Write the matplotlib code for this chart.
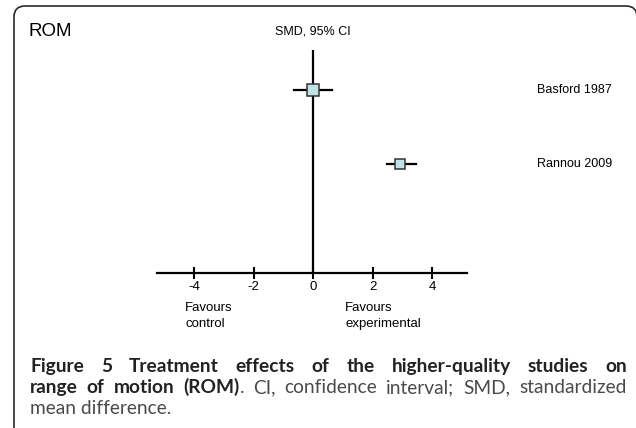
import matplotlib
matplotlib.use('Agg')
import matplotlib.pyplot as plt
from matplotlib.patches import FancyBboxPatch
from matplotlib.transforms import IdentityTransform

# forest plot data
studies = ['Basford 1987', 'Rannou 2009']
smd = [0.0, 2.92]
ci_low = [-0.65, 2.49]
ci_high = [0.65, 3.45]
box_size = [8.2, 7.4]
xticks = [-4, -2, 0, 2, 4]

W, H = 636, 428
fig = plt.figure(figsize=(W / 100, H / 100), dpi=100)
plt.rcParams['font.family'] = ['Liberation Sans', 'DejaVu Sans']

def px(x, y):
    # pixel (from top-left) -> figure fraction
    return x / W, 1 - y / H

# panel frame with rounded top corners
frame = FancyBboxPatch((14, -100), 623, H - 6 + 100,
                       boxstyle='round,pad=0,rounding_size=11',
                       transform=IdentityTransform(), fill=False,
                       edgecolor='#2b2b2b', linewidth=1.2)
fig.patches.append(frame)

# axes: x=0 at 313px, 29.75 px per unit
ax_l, ax_r, ax_t, ax_b = 157, 467, 50, 273
ax = fig.add_axes([ax_l / W, 1 - ax_b / H, (ax_r - ax_l) / W, (ax_b - ax_t) / H])
ax.set_xlim((ax_l - 313) / 29.75, (ax_r - 313) / 29.75)
ax.set_ylim(1 + (ax_b - 90) / 73.7, 1 - (90 - ax_t) / 73.7)
for s in ['top', 'right', 'left']:
    ax.spines[s].set_visible(False)
ax.spines['bottom'].set_linewidth(1.6)
ax.patch.set_alpha(0)
ax.set_yticks([])
ax.set_xticks(xticks)
ax.set_xticklabels([str(t) for t in xticks])
ax.tick_params(axis='x', direction='inout', length=8, width=1.5, labelsize=9.5, pad=2)
ax.axvline(0, color='black', lw=1.6, zorder=1)

rows = list(range(1, len(studies) + 1))
for r, m, lo, hi, s, name in zip(rows, smd, ci_low, ci_high, box_size, studies):
    ax.plot([lo, hi], [r, r], color='black', lw=1.6, zorder=2)
    ax.plot([m], [r], marker='s', ms=s, mfc='#bfe2e6', mec='#333333', mew=1.1, zorder=3)
    ax.text(7.53, r, name, ha='left', va='center', fontsize=9, clip_on=False)

fig.text(*px(313, 31), 'SMD, 95% CI', ha='center', va='center', fontsize=9)
fig.text(*px(185, 302), 'Favours\ncontrol', ha='left', va='top', fontsize=9.5, linespacing=1.4)
fig.text(*px(345, 302), 'Favours\nexperimental', ha='left', va='top', fontsize=9.5, linespacing=1.4)
fig.text(*px(29, 31), 'ROM', ha='left', va='center', fontsize=13.5)

# caption, justified by hand
cap_font = 'Lato'
cap_bold = '#222222'
cap_reg = '#4a4a4a'
line1 = 'Figure 5 Treatment effects of the higher-quality studies on'
line2 = [[('range', 'bold')], [('of', 'bold')], [('motion', 'bold')],
         [('(ROM)', 'bold'), ('.', 'normal')], [('CI,', 'normal')],
         [('confidence', 'normal')], [('interval;', 'normal')],
         [('SMD,', 'normal')], [('standardized', 'normal')]]
line3 = 'mean difference.'

renderer = fig.canvas.get_renderer()

def width_of(s, weight, size):
    t = fig.text(0, 0, s, fontsize=size, family=cap_font, weight=weight)
    w = t.get_window_extent(renderer).width
    t.remove()
    return w

def natural_width(tokens, size):
    words = sum(width_of(p, wt, size) for tok in tokens for p, wt in tok)
    space = width_of('a a', 'normal', size) - width_of('aa', 'normal', size)
    return words + (len(tokens) - 1) * space

tokens1 = [[(w, 'bold')] for w in line1.split()]
# pick the size at which the fuller line fills the column
cap_size = 0.95 * min(10 * 594 / natural_width(tokens1, 10), 10 * 594 / natural_width(line2, 10))

def justify(tokens, y, x0=30, x1=627):
    widths = [sum(width_of(p, wt, cap_size) for p, wt in tok) for tok in tokens]
    gap = (x1 - x0 - sum(widths)) / (len(tokens) - 1)
    x = x0
    for tok, w in zip(tokens, widths):
        xx = x
        for p, wt in tok:
            fig.text(*px(xx, y), p, ha='left', va='baseline', fontsize=cap_size,
                     family=cap_font, weight=wt,
                     color=cap_bold if wt == 'bold' else cap_reg)
            xx += width_of(p, wt, cap_size)
        x += w + gap

justify(tokens1, 372)
justify(line2, 393)
fig.text(*px(30, 414), line3, ha='left', va='baseline', fontsize=cap_size,
         family=cap_font, color=cap_reg)

fig.savefig('out.png', dpi=100)
